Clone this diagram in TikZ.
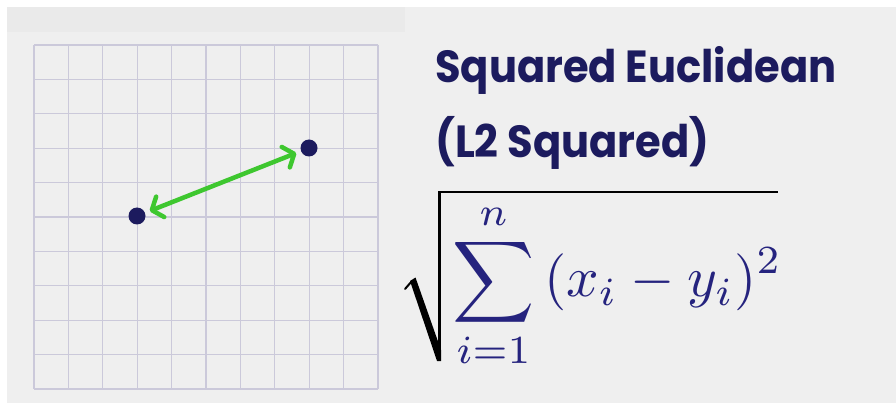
\documentclass[tikz,border=0pt]{standalone}
\usepackage{graphicx}
\usepackage{fontspec}
\usetikzlibrary{arrows.meta}
\newfontfamily\titlefont{Poppins}
\definecolor{bgc}{HTML}{EFEFEF}
\definecolor{bandc}{HTML}{EAEAEA}
\definecolor{gridc}{HTML}{CBC9DA}
\definecolor{navy}{HTML}{1C1B5E}
\definecolor{mathblue}{HTML}{25237E}
\definecolor{arrgreen}{HTML}{3EC72F}
\tikzset{
  gridline/.style={draw=gridc, line width=1.3pt},
  dot/.style={circle, fill=navy, minimum size=17pt, inner sep=0pt},
  arr/.style={draw=arrgreen, line width=4.5pt, line cap=round,
    {Straight Barb[length=9pt,width=22pt,line cap=round,line join=round]}-{Straight Barb[length=9pt,width=22pt,line cap=round,line join=round]},
    shorten <=5pt, shorten >=5pt},
  title/.style={anchor=base west, inner sep=0pt, text=navy, font=\titlefont\bfseries\fontsize{45}{50}\selectfont},
  radthin/.style={draw=black, line width=2.6pt, line join=miter},
}
\newcommand{\narrow}[1]{\scalebox{0.925}[1]{#1}}
\begin{document}
\begin{tikzpicture}[x=1pt,y=-1pt]
\useasboundingbox (0,0) rectangle (896,403);
\fill[white] (0,0) rectangle (896,403);
\fill[bgc] (7,7) rectangle (896,403);
\fill[bandc] (7,7) rectangle (405,32);
\foreach \i in {0,...,10} {
  \draw[gridline] ({34+34.4*\i},45) -- ({34+34.4*\i},389);
  \draw[gridline] (34,{45+34.4*\i}) -- (378,{45+34.4*\i});
}
\node[dot] (p) at (137,216) {};
\node[dot] (q) at (309,148) {};
\draw[arr] (p) -- (q);
\node[title] (t1) at (435,83) {\narrow{Squared Euclidean}};
\node[title] (t2) at (435,158) {\narrow{(L2 Squared)}};
\node[inner sep=0pt, anchor=west] (f) at (452,286)
  {\scalebox{5.7}{$\color{mathblue}\displaystyle\sum_{i=1}^{n}\,(x_i-y_i)^2$}};
% radical sign
\draw[black, line width=2pt, line cap=round] (405,289) -- (412,281);
\fill[black] (410,281) -- (415.5,277.5) -- (441,350) -- (441,361) -- (437,361) -- cycle;
\draw[radthin] (439.7,361) -- (439.7,192) -- (778,192);
\end{tikzpicture}
\end{document}
